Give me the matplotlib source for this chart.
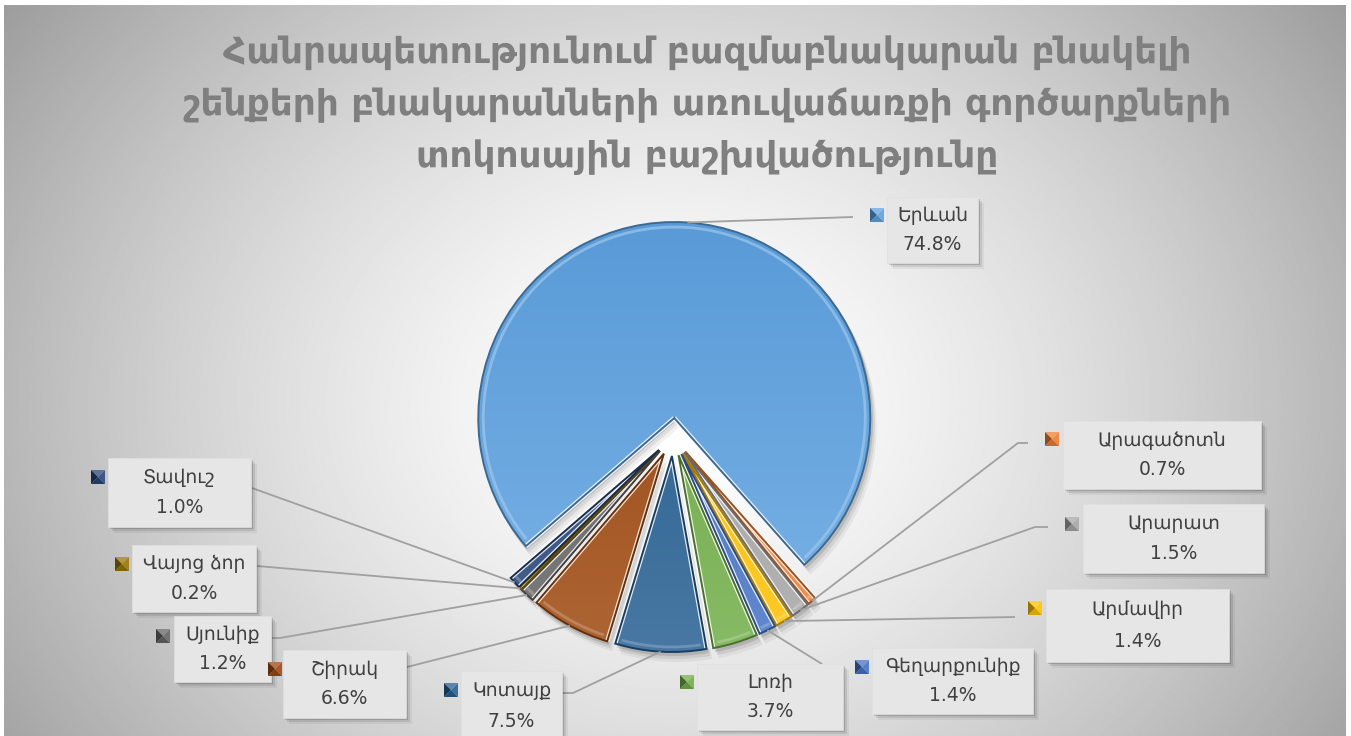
import numpy as np
import matplotlib.pyplot as plt
from matplotlib.patches import Rectangle, Polygon, Arc, Wedge
from matplotlib.colors import to_rgb, LinearSegmentedColormap

# Regional shares of apartment sale transactions (%)
regions = ['Երևան', 'Արագածոտն', 'Արարատ', 'Արմավիր', 'Գեղարքունիք', 'Լոռի',
           'Կոտայք', 'Շիրակ', 'Սյունիք', 'Վայոց ձոր', 'Տավուշ']
shares = [74.8, 0.7, 1.5, 1.4, 1.4, 3.7, 7.5, 6.6, 1.2, 0.2, 1.0]
title_lines = ['Հանրապետությունում բազմաբնակարան բնակելի',
               'շենքերի բնակարանների առուվաճառքի գործարքների',
               'տոկոսային բաշխվածությունը']

colors = ['#5da1e0', '#ed7d31', '#a5a5a5', '#ffc000', '#4472c4', '#70ad47',
          '#255e91', '#9e480e', '#636363', '#997300', '#264478']

W, H = 1351, 736

# label boxes (left, top, right, bottom) in pixels from the top-left corner
boxes = [(887, 197, 978, 263), (1063, 421, 1261, 489), (1083, 504, 1264, 573),
         (1046, 589, 1229, 662), (872, 648, 1033, 714), (697, 664, 843, 730),
         (461, 671, 562, 741), (283, 650, 406, 718), (174, 616, 271, 682),
         (132, 545, 256, 612), (108, 458, 251, 527)]
keys = [(877, 215), (1052, 439), (1072, 524), (1035, 608), (862, 667), (687, 682),
        (451, 690), (275, 669), (163, 636), (122, 564), (98, 477)]
# leader line end and optional elbow point
leaders = [((853, 217), None), ((1028, 443), (1018, 443)), ((1048, 527), (1035, 527)),
           ((1015, 617), None), ((822, 664), None), (None, None),
           ((562, 693), (573, 693)), ((407, 667), None), ((271, 638), (280, 638)),
           ((257, 566), None), ((252, 488), None)]


def shade(c, f):
    r = np.array(to_rgb(c))
    if f >= 0:
        return tuple(r + (1 - r) * f)
    return tuple(r * (1 + f))


def py(y):
    return H - y


plt.rcParams['font.family'] = ['DejaVu Sans']
fig = plt.figure(figsize=(W / 100, H / 100), dpi=100)
fig.patch.set_facecolor('white')
ax = fig.add_axes([0, 0, 1, 1])

# radial grey background
yy, xx = np.mgrid[0:H, 0:W]
d = np.hypot((xx - 675) / 780, (yy - 400) / 640)
bg = 1 - 0.35 * d ** 1.5
ax.imshow(bg, cmap='gray', vmin=0, vmax=1, extent=(4, 1346, 0, H - 5),
          origin='upper', zorder=0, interpolation='bilinear')

cx, cy, R = 673, py(437), 196
wedges, _ = ax.pie(shares, colors=colors, startangle=220.8, counterclock=False,
                   radius=R, center=(cx, cy), explode=[19] * len(shares),
                   wedgeprops=dict(linewidth=0, zorder=2))

grad = np.linspace(1, 0, 200).reshape(-1, 1)
for w, c in zip(wedges, colors):
    x0, y0 = w.center
    # soft drop shadow
    for k, a in zip([3, 6, 9], [0.12, 0.08, 0.05]):
        ax.add_patch(Wedge((x0 + k * 0.6, y0 - k), R + 1, w.theta1, w.theta2,
                           facecolor='black', alpha=a, linewidth=0, zorder=1))
    # top-lit sheen
    cmap = LinearSegmentedColormap.from_list('s', [shade(c, -0.04), shade(c, 0.16)])
    im = ax.imshow(grad, cmap=cmap, extent=(x0 - R, x0 + R, y0 - R, y0 + R),
                   origin='lower', zorder=2.5, aspect='auto')
    im.set_clip_path(w)
    # light gap along the straight sides
    for th in (w.theta1, w.theta2):
        ax.plot([x0, x0 + R * np.cos(np.radians(th))], [y0, y0 + R * np.sin(np.radians(th))],
                color='white', linewidth=3.2, alpha=0.85, zorder=2.9,
                solid_capstyle='butt')
    # bevel rim
    ax.add_patch(Wedge((x0, y0), R, w.theta1, w.theta2, fill=False,
                       edgecolor=shade(c, -0.35), linewidth=1.4, zorder=3))
    span = w.theta2 - w.theta1
    ax.add_patch(Arc((x0, y0), 2 * (R - 5), 2 * (R - 5), theta1=w.theta1 + min(1.5, span * 0.2),
                     theta2=w.theta2 - min(1.5, span * 0.2), color=shade(c, 0.4),
                     linewidth=2, alpha=0.7, zorder=3))

for w, name, val, c, box, key, (end, elbow) in zip(wedges, regions, shares, colors,
                                                   boxes, keys, leaders):
    l, t, r, b = box
    bw, bh = r - l, b - t
    # box shadow
    for k, a in zip([2, 4, 6], [0.15, 0.09, 0.05]):
        ax.add_patch(Rectangle((l + k, py(b) - k), bw, bh, facecolor='black',
                               alpha=a, linewidth=0, zorder=4))
    ax.add_patch(Rectangle((l, py(b)), bw, bh, facecolor='#e6e6e6',
                           edgecolor='#e0e0e0', linewidth=0.5, zorder=5))
    xm = (l + r) / 2
    ax.text(xm, py(t + 0.28 * bh), name, ha='center', va='center', fontsize=13.5,
            color='#404040', zorder=6)
    ax.text(xm, py(t + 0.72 * bh), f'{val:.1f}%', ha='center', va='center',
            fontsize=13.5, color='#404040', zorder=6)

    # legend key with pyramid bevel
    kx, ky = key[0], py(key[1])
    h = 7
    tl, tr, br, bl, m = (kx - h, ky + h), (kx + h, ky + h), (kx + h, ky - h), (kx - h, ky - h), (kx, ky)
    for pts, f in [((tl, tr, m), 0.25), ((tr, br, m), 0.1), ((br, bl, m), -0.15), ((bl, tl, m), -0.4)]:
        ax.add_patch(Polygon(pts, closed=True, facecolor=shade(c, f), linewidth=0, zorder=6))

    # leader line from the arc midpoint
    if end is not None:
        x0, y0 = w.center
        tm = np.radians((w.theta1 + w.theta2) / 2)
        sx, sy = x0 + R * np.cos(tm), y0 + R * np.sin(tm)
        xs, ys = [sx], [sy]
        if elbow is not None:
            xs.append(elbow[0])
            ys.append(py(elbow[1]))
        xs.append(end[0])
        ys.append(py(end[1]))
        ax.plot(xs, ys, color='#a0a0a0', linewidth=1.3, zorder=3.5,
                solid_capstyle='butt')

for i, line in enumerate(title_lines):
    ax.text(707, py(53 + 52 * i), line, ha='center', va='center', fontsize=25.8,
            fontweight='bold', color='#7f7f7f', zorder=6)

ax.set_xlim(0, W)
ax.set_ylim(0, H)
ax.set_aspect('auto')
ax.axis('off')

fig.savefig('out.png', dpi=100, facecolor='white')
